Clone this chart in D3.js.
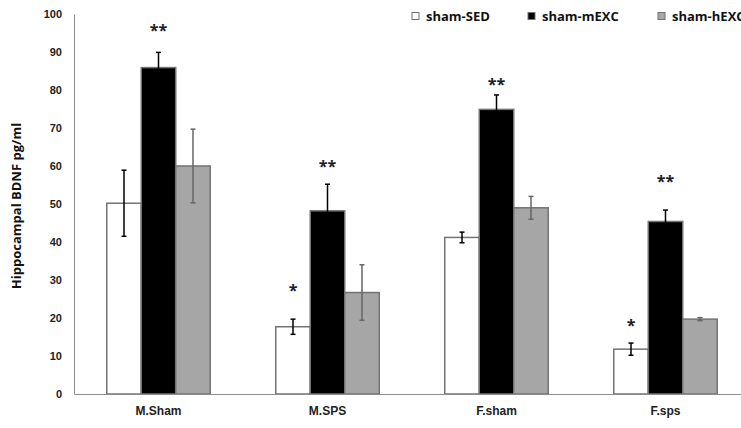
<!DOCTYPE html>
<html><head><meta charset="utf-8">
<script src="https://cdn.jsdelivr.net/npm/d3@7"></script>
<style>body{margin:0;background:#fff;}svg{display:block;font-family:"Open Sans",sans-serif;}</style>
</head><body>
<svg id="c" width="741" height="428"></svg>
<script>
const categories = ["M.Sham", "M.SPS", "F.sham", "F.sps"];
const seriesNames = ["sham-SED", "sham-mEXC", "sham-hEXC"];
const shamSED  = [50.2, 17.7, 41.2, 11.8];
const shamSEDerr = [8.7, 2.0, 1.4, 1.6];
const shamMEXC = [85.9, 48.2, 74.9, 45.4];
const shamMEXCerr = [4.0, 7.0, 3.8, 3.0];
const shamHEXC = [60.0, 26.7, 49.0, 19.7];
const shamHEXCerr = [9.7, 7.3, 3.0, 0.4];
const yTicks = [0, 10, 20, 30, 40, 50, 60, 70, 80, 90, 100];
// significance marks: [category index, series index, label, y value of label]
const sigMarks = [
  [0, 1, "**", 96.8],
  [1, 0, "*", 28.4],
  [1, 1, "**", 61.0],
  [2, 1, "**", 82.6],
  [3, 0, "*", 19.0],
  [3, 1, "**", 57.0]
];

const values = [shamSED, shamMEXC, shamHEXC];
const errs = [shamSEDerr, shamMEXCerr, shamHEXCerr];
const fills = ["#ffffff", "#000000", "#a6a6a6"];
const errColors = ["#000000", "#000000", "#666666"];

const svg = d3.select("#c");
const x0 = d3.scaleBand().domain(categories).range([74, 750]).paddingInner(0).paddingOuter(0);
const x1 = d3.scaleBand().domain(seriesNames).range([0, x0.bandwidth()]).paddingInner(0).paddingOuter(0.95);
const y = d3.scaleLinear().domain([0, 100]).range([394, 14]);

// Y axis
const yAxis = d3.axisLeft(y).tickValues(yTicks).tickSize(0).tickPadding(12);
const ya = svg.append("g").attr("transform", "translate(74,0)").call(yAxis);
ya.select(".domain").attr("stroke", "#8c8c8c").attr("stroke-width", 1);
ya.selectAll("text").attr("font-size", 11).attr("font-weight", "bold").attr("fill", "#222");

// Bars
const data = [];
categories.forEach((c, i) => seriesNames.forEach((s, j) => data.push({c, s, i, j, v: values[j][i], e: errs[j][i]})));

svg.append("g").selectAll("rect").data(data).join("rect")
  .attr("x", d => x0(d.c) + x1(d.s))
  .attr("y", d => y(d.v))
  .attr("width", x1.bandwidth())
  .attr("height", d => y(0) - y(d.v))
  .attr("fill", d => fills[d.j])
  .attr("stroke", "#737373")
  .attr("stroke-width", 1.5);

// X axis
const xAxis = d3.axisBottom(x0).tickSize(0).tickPadding(12);
const xa = svg.append("g").attr("transform", "translate(0,394)").call(xAxis);
xa.select(".domain").attr("stroke", "#8c8c8c").attr("stroke-width", 1);
xa.selectAll("text").attr("font-size", 12).attr("font-weight", "bold").attr("fill", "#222");

// Error bars
const eg = svg.append("g");
data.forEach(d => {
  const cx = x0(d.c) + x1(d.s) + x1.bandwidth() / 2;
  const col = errColors[d.j];
  eg.append("line").attr("x1", cx).attr("x2", cx).attr("y1", y(d.v + d.e)).attr("y2", y(d.v - d.e)).attr("stroke", col).attr("stroke-width", 1.5);
  [d.v + d.e, d.v - d.e].forEach(v => eg.append("line").attr("x1", cx - 2.5).attr("x2", cx + 2.5).attr("y1", y(v)).attr("y2", y(v)).attr("stroke", col).attr("stroke-width", 1.5));
});

// Significance marks
svg.append("g").selectAll("text").data(sigMarks).join("text")
  .attr("x", d => x0(categories[d[0]]) + x1(seriesNames[d[1]]) + x1.bandwidth() / 2)
  .attr("y", d => y(d[3]))
  .attr("dy", "0.6em")
  .attr("text-anchor", "middle")
  .attr("font-size", 16)
  .attr("font-weight", "bold")
  .attr("fill", "#1a1a2a")
  .text(d => d[2]);

// Legend
const legX = [412, 528, 658];
const lg = svg.append("g");
seriesNames.forEach((s, j) => {
  lg.append("rect").attr("x", legX[j]).attr("y", 12.5).attr("width", 7).attr("height", 7)
    .attr("fill", fills[j]).attr("stroke", "#737373").attr("stroke-width", 1);
  lg.append("text").attr("x", legX[j] + 14).attr("y", 20.5).attr("font-size", 13).attr("font-weight", "bold").attr("fill", "#111").text(s);
});

// Y title
svg.append("text").attr("transform", "translate(21,206) rotate(-90)")
  .attr("text-anchor", "middle").attr("font-size", 13).attr("font-weight", "bold").attr("fill", "#111")
  .text("Hippocampal BDNF pg/ml");
</script>
</body></html>
